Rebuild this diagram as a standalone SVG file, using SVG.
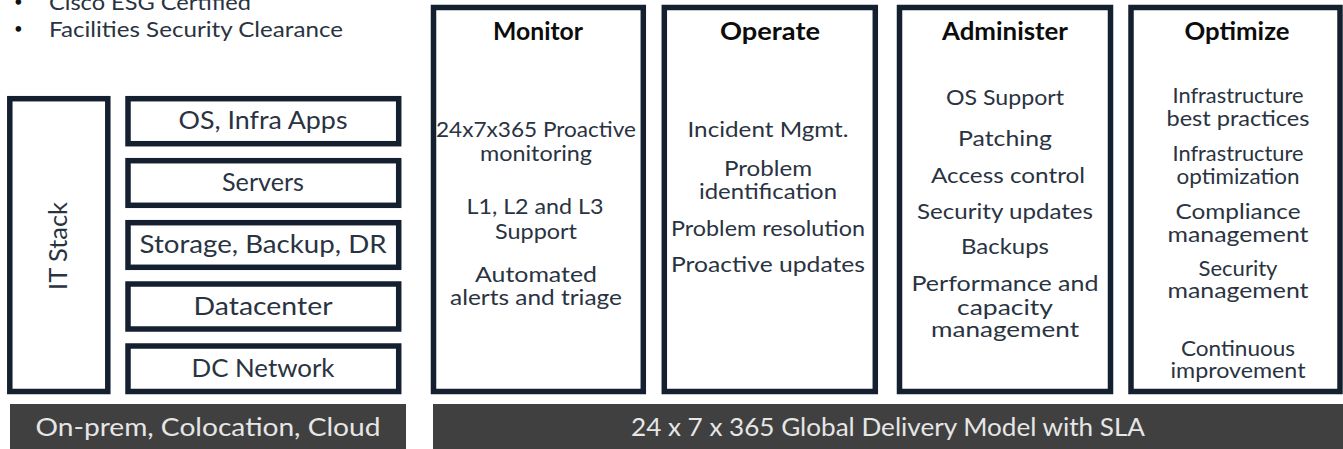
<svg xmlns="http://www.w3.org/2000/svg" width="1343" height="449" viewBox="0 0 1343 449">
<style>
text{font-family:"Lato","Noto Sans","Liberation Sans",sans-serif;fill:#2a3341;text-anchor:middle;font-size:22px}
.box{fill:#fff;stroke:#14202f;stroke-width:5.5}
.bar{fill:#404040}
.w{fill:#e6e6e6;font-size:25px}
.h{font-weight:700;font-size:25px;fill:#0c0c0c}
.s{font-size:25px}
.l{text-anchor:start}
.b{text-anchor:start;font-size:15px;fill:#111}
</style>
<rect width="1343" height="449" fill="#fff"/>
<g id="notes"><text class="l" x="49" y="10" textLength="202" lengthAdjust="spacingAndGlyphs">Cisco ESG Certified</text><text class="l" x="49" y="37" textLength="294" lengthAdjust="spacingAndGlyphs">Facilities Security Clearance</text><text class="b" x="14" y="7">•</text><text class="b" x="14" y="34">•</text></g>
<g id="it-stack"><rect class="box" x="9.8" y="98.7" width="98" height="292.8"/><text class="s" transform="translate(67 246) rotate(-90)" textLength="88" lengthAdjust="spacingAndGlyphs">IT Stack</text></g>
<g id="os"><rect class="box" x="128" y="98.7" width="270.7" height="45"/><text class="s" x="263" y="129" textLength="169" lengthAdjust="spacingAndGlyphs">OS, Infra Apps</text></g>
<g id="servers"><rect class="box" x="128" y="160.7" width="270.7" height="44.6"/><text class="s" x="263" y="191" textLength="82" lengthAdjust="spacingAndGlyphs">Servers</text></g>
<g id="storage"><rect class="box" x="128" y="222.7" width="270.7" height="44.6"/><text class="s" x="263" y="253" textLength="247" lengthAdjust="spacingAndGlyphs">Storage, Backup, DR</text></g>
<g id="datacenter"><rect class="box" x="128" y="284" width="270.7" height="45"/><text class="s" x="263" y="315" textLength="139" lengthAdjust="spacingAndGlyphs">Datacenter</text></g>
<g id="network"><rect class="box" x="128" y="346" width="270.7" height="45.5"/><text class="s" x="263" y="377" textLength="143" lengthAdjust="spacingAndGlyphs">DC Network</text></g>
<g id="monitor"><rect class="box" x="433.5" y="7.5" width="209.8" height="384"/><text class="h" x="538" y="40" textLength="90" lengthAdjust="spacingAndGlyphs">Monitor</text><text x="536" y="137" textLength="200" lengthAdjust="spacingAndGlyphs">24x7x365 Proactive</text><text x="536" y="161" textLength="112" lengthAdjust="spacingAndGlyphs">monitoring</text><text x="535" y="214" textLength="137" lengthAdjust="spacingAndGlyphs">L1, L2 and L3</text><text x="536" y="239" textLength="82" lengthAdjust="spacingAndGlyphs">Support</text><text x="536" y="282" textLength="122" lengthAdjust="spacingAndGlyphs">Automated</text><text x="536" y="305" textLength="172" lengthAdjust="spacingAndGlyphs">alerts and triage</text></g>
<g id="operate"><rect class="box" x="664.3" y="7.5" width="211" height="384"/><text class="h" x="770" y="40" textLength="100" lengthAdjust="spacingAndGlyphs">Operate</text><text x="768" y="137" textLength="161" lengthAdjust="spacingAndGlyphs">Incident Mgmt.</text><text x="768" y="176" textLength="88" lengthAdjust="spacingAndGlyphs">Problem</text><text x="768" y="199" textLength="138" lengthAdjust="spacingAndGlyphs">identification</text><text x="768" y="236" textLength="194" lengthAdjust="spacingAndGlyphs">Problem resolution</text><text x="768" y="272" textLength="194" lengthAdjust="spacingAndGlyphs">Proactive updates</text></g>
<g id="administer"><rect class="box" x="899.5" y="7.5" width="211" height="384"/><text class="h" x="1005" y="40" textLength="126" lengthAdjust="spacingAndGlyphs">Administer</text><text x="1005" y="105" textLength="118" lengthAdjust="spacingAndGlyphs">OS Support</text><text x="1005" y="146" textLength="94" lengthAdjust="spacingAndGlyphs">Patching</text><text x="1008" y="183" textLength="154" lengthAdjust="spacingAndGlyphs">Access control</text><text x="1005" y="219" textLength="176" lengthAdjust="spacingAndGlyphs">Security updates</text><text x="1005" y="254" textLength="88" lengthAdjust="spacingAndGlyphs">Backups</text><text x="1005" y="291" textLength="187" lengthAdjust="spacingAndGlyphs">Performance and</text><text x="1005" y="315" textLength="96" lengthAdjust="spacingAndGlyphs">capacity</text><text x="1005" y="337" textLength="148" lengthAdjust="spacingAndGlyphs">management</text></g>
<g id="optimize"><rect class="box" x="1131" y="7.5" width="209" height="384"/><text class="h" x="1237" y="40" textLength="105" lengthAdjust="spacingAndGlyphs">Optimize</text><text x="1238" y="103" textLength="131" lengthAdjust="spacingAndGlyphs">Infrastructure</text><text x="1238" y="126" textLength="143" lengthAdjust="spacingAndGlyphs">best practices</text><text x="1238" y="161" textLength="131" lengthAdjust="spacingAndGlyphs">Infrastructure</text><text x="1238" y="184" textLength="123" lengthAdjust="spacingAndGlyphs">optimization</text><text x="1238" y="219" textLength="125" lengthAdjust="spacingAndGlyphs">Compliance</text><text x="1238" y="242" textLength="141" lengthAdjust="spacingAndGlyphs">management</text><text x="1238" y="276" textLength="79" lengthAdjust="spacingAndGlyphs">Security</text><text x="1238" y="298" textLength="141" lengthAdjust="spacingAndGlyphs">management</text><text x="1238" y="356" textLength="114" lengthAdjust="spacingAndGlyphs">Continuous</text><text x="1238" y="378" textLength="135" lengthAdjust="spacingAndGlyphs">improvement</text></g>
<g id="hosting"><rect class="bar" x="10" y="404" width="396" height="45"/><text class="w" x="208" y="436" textLength="345" lengthAdjust="spacingAndGlyphs">On-prem, Colocation, Cloud</text></g>
<g id="delivery"><rect class="bar" x="433" y="404" width="910" height="45"/><text class="w" x="888" y="436" textLength="514" lengthAdjust="spacingAndGlyphs">24 x 7 x 365 Global Delivery Model with SLA</text></g>
<g id="connectors"></g>
</svg>
